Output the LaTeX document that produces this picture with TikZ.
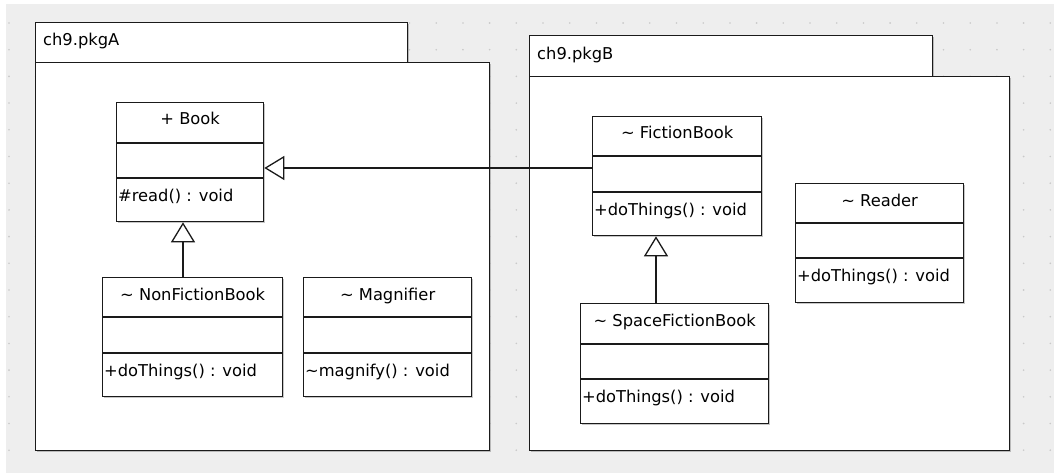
\documentclass[tikz,border=0pt]{standalone}
\usepackage{fontspec}
\setmainfont{DejaVu Sans}
\usetikzlibrary{arrows.meta,calc,shadows}
\definecolor{bgc}{HTML}{EEEEEE}
\definecolor{dotc}{HTML}{C9C9C9}
\definecolor{linec}{HTML}{1A1A1A}
\tikzset{
  boxshadow/.style={drop shadow={shadow xshift=1.8pt,shadow yshift=-1.8pt,fill=black,opacity=0.22}},
  clsbox/.style={draw=linec,fill=white,line width=1.3pt,inner sep=0pt,anchor=north west,boxshadow},
  pkgbox/.style={draw=linec,fill=white,line width=1.3pt,inner sep=0pt,anchor=north west,boxshadow},
  divline/.style={draw=linec,line width=1.3pt},
  txt/.style={inner sep=0pt,font=\fontsize{16.3}{19}\selectfont,text=black},
  gen/.style={draw=linec,line width=1.3pt,-{Triangle[open,length=20pt,width=24pt,line width=1.3pt]},fill=none},
}
% name, x1, y1, x2, y2, divider1, divider2, title, method
\newcommand\umlcls[9]{%
  \node[clsbox,minimum width={(#4-#2)*1pt},minimum height={(#5-#3)*1pt}] (#1) at (#2,#3) {};
  \draw[divline] ($(#1.north west)+(0,#6-#3)$) -- ($(#1.north east)+(0,#6-#3)$);
  \draw[divline] ($(#1.north west)+(0,#7-#3)$) -- ($(#1.north east)+(0,#7-#3)$);
  \node[txt,anchor=base] (#1-title) at ($(#1.north)+(0,23)$) {#8};
  \node[txt,anchor=base west] (#1-method) at ($(#1.north west)+(2,#7-#3+23.5)$) {#9};
}
\begin{document}
\begin{tikzpicture}[x=1pt,y={(0pt,-1pt)}]
\useasboundingbox (0,0) rectangle (1054,473);
\fill[white] (0,0) rectangle (1054,473);
\fill[bgc] (6,4) rectangle (1054,473);
\foreach \i in {0,...,39}{
  \foreach \j in {0,...,16}{
    \fill[dotc] (9+26.7*\i,23+26.7*\j) circle (0.9);
  }
}
% package A
\node[pkgbox,minimum width=372pt,minimum height=40pt] (pkgAtab) at (35,22) {};
\node[pkgbox,minimum width=454pt,minimum height=388pt] (pkgA) at (35,62) {};
\node[txt,anchor=base west] (pkgAlabel) at ($(pkgAtab.north west)+(8,24)$) {ch9.pkgA};
% package B
\node[pkgbox,minimum width=403pt,minimum height=41pt] (pkgBtab) at (529,35) {};
\node[pkgbox,minimum width=480pt,minimum height=374pt] (pkgB) at (529,76) {};
\node[txt,anchor=base west] (pkgBlabel) at ($(pkgBtab.north west)+(8,25)$) {ch9.pkgB};
% classes
\umlcls{book}{116}{102}{263}{221}{143}{178}{+ Book}{\#read() : void}
\umlcls{nonfic}{102}{277}{282}{396}{317}{353}{\textasciitilde\ NonFictionBook}{+doThings() : void}
\umlcls{magn}{303}{277}{471}{396}{317}{353}{\textasciitilde\ Magnifier}{\textasciitilde magnify() : void}
\umlcls{fiction}{592}{116}{761}{235}{156}{192}{\textasciitilde\ FictionBook}{+doThings() : void}
\umlcls{space}{580}{303}{768}{423}{344}{379}{\textasciitilde\ SpaceFictionBook}{+doThings() : void}
\umlcls{reader}{795}{183}{963}{302}{223}{258}{\textasciitilde\ Reader}{+doThings() : void}
% generalizations
\draw[gen] ($(fiction.north west)+(0,52)$) -- ($(book.north east)+(0,66)$);
\draw[gen] ($(nonfic.north west)+(81,0)$) -- ($(book.south west)+(67,0)$);
\draw[gen] ($(space.north west)+(76,0)$) -- ($(fiction.south west)+(64,0)$);
\end{tikzpicture}
\end{document}
